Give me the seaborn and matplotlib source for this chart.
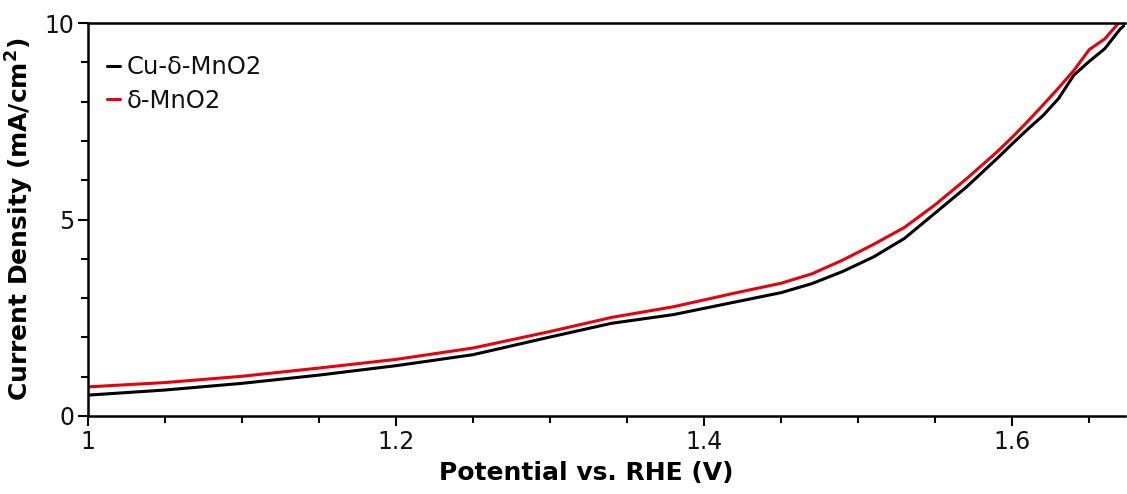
import numpy as np
import pandas as pd
import matplotlib
matplotlib.use("Agg")
import matplotlib.pyplot as plt
from matplotlib.ticker import MultipleLocator, FuncFormatter
import seaborn as sns

# potential (V vs RHE)
potential = [1.00, 1.05, 1.10, 1.15, 1.20, 1.25, 1.30, 1.34, 1.38, 1.42, 1.45,
             1.47, 1.49, 1.51, 1.53, 1.55, 1.57, 1.59, 1.60, 1.61, 1.62, 1.63,
             1.64, 1.65, 1.66, 1.67, 1.68]

# current density (mA/cm2)
cu_mno2 = [0.53, 0.66, 0.83, 1.04, 1.28, 1.56, 2.01, 2.36, 2.58, 2.90, 3.14,
           3.37, 3.68, 4.05, 4.52, 5.17, 5.82, 6.55, 6.93, 7.30, 7.65, 8.08,
           8.68, 9.03, 9.35, 9.85, 10.2]
mno2 = [0.74, 0.85, 1.01, 1.22, 1.44, 1.73, 2.15, 2.51, 2.78, 3.13, 3.38,
        3.62, 3.97, 4.37, 4.80, 5.38, 6.03, 6.72, 7.10, 7.50, 7.92, 8.35,
        8.80, 9.33, 9.60, 10.05, 10.3]

series_names = ["Cu-δ-MnO2", "δ-MnO2"]
series_colors = {"Cu-δ-MnO2": "black", "δ-MnO2": "#e8000b"}

df = pd.concat([
    pd.DataFrame({"Potential": potential, "Current": cu_mno2, "Sample": series_names[0]}),
    pd.DataFrame({"Potential": potential, "Current": mno2, "Sample": series_names[1]}),
])

sns.set_style("ticks")
plt.rcParams["font.family"] = ["DejaVu Sans"]

fig = plt.figure(figsize=(11.27, 4.94), dpi=100)
ax = fig.add_axes([0.078, 0.158, 0.92, 0.795])

sns.lineplot(data=df, x="Potential", y="Current", hue="Sample",
             hue_order=series_names, palette=series_colors,
             linewidth=2.2, ax=ax, sort=False)

ax.set_xlim(1.0, 1.673)
ax.set_ylim(0, 10)

ax.xaxis.set_major_locator(MultipleLocator(0.2))
ax.xaxis.set_minor_locator(MultipleLocator(0.05))
ax.yaxis.set_major_locator(MultipleLocator(5))
ax.yaxis.set_minor_locator(MultipleLocator(1))
ax.xaxis.set_major_formatter(FuncFormatter(lambda v, p: "%g" % round(v, 2)))

ax.tick_params(which="major", direction="out", length=7, width=1.5,
               labelsize=17, color="black", labelcolor="#111111", pad=3)
ax.tick_params(which="minor", direction="out", length=5, width=1.5, color="black")

for side in ["left", "bottom", "top"]:
    ax.spines[side].set_linewidth(1.8)
    ax.spines[side].set_color("black")
ax.spines["right"].set_visible(False)

ax.set_xlabel("Potential vs. RHE (V)", fontsize=18, fontweight="bold", color="black")
ax.set_ylabel(r"Current Density (mA/cm$^\mathbf{2}$)", fontsize=18,
              fontweight="bold", labelpad=6, color="black")
ax.xaxis.set_label_coords(0.481, -0.115)

leg = ax.legend(loc="upper left", frameon=False, fontsize=17.5,
                handlelength=0.5, handletextpad=0.3, borderaxespad=0.4,
                labelspacing=0.4, bbox_to_anchor=(0.0, 0.968))
for line in leg.get_lines():
    line.set_linewidth(2.2)
for txt in leg.get_texts():
    txt.set_color("#111111")

fig.savefig("out.png", dpi=100)
